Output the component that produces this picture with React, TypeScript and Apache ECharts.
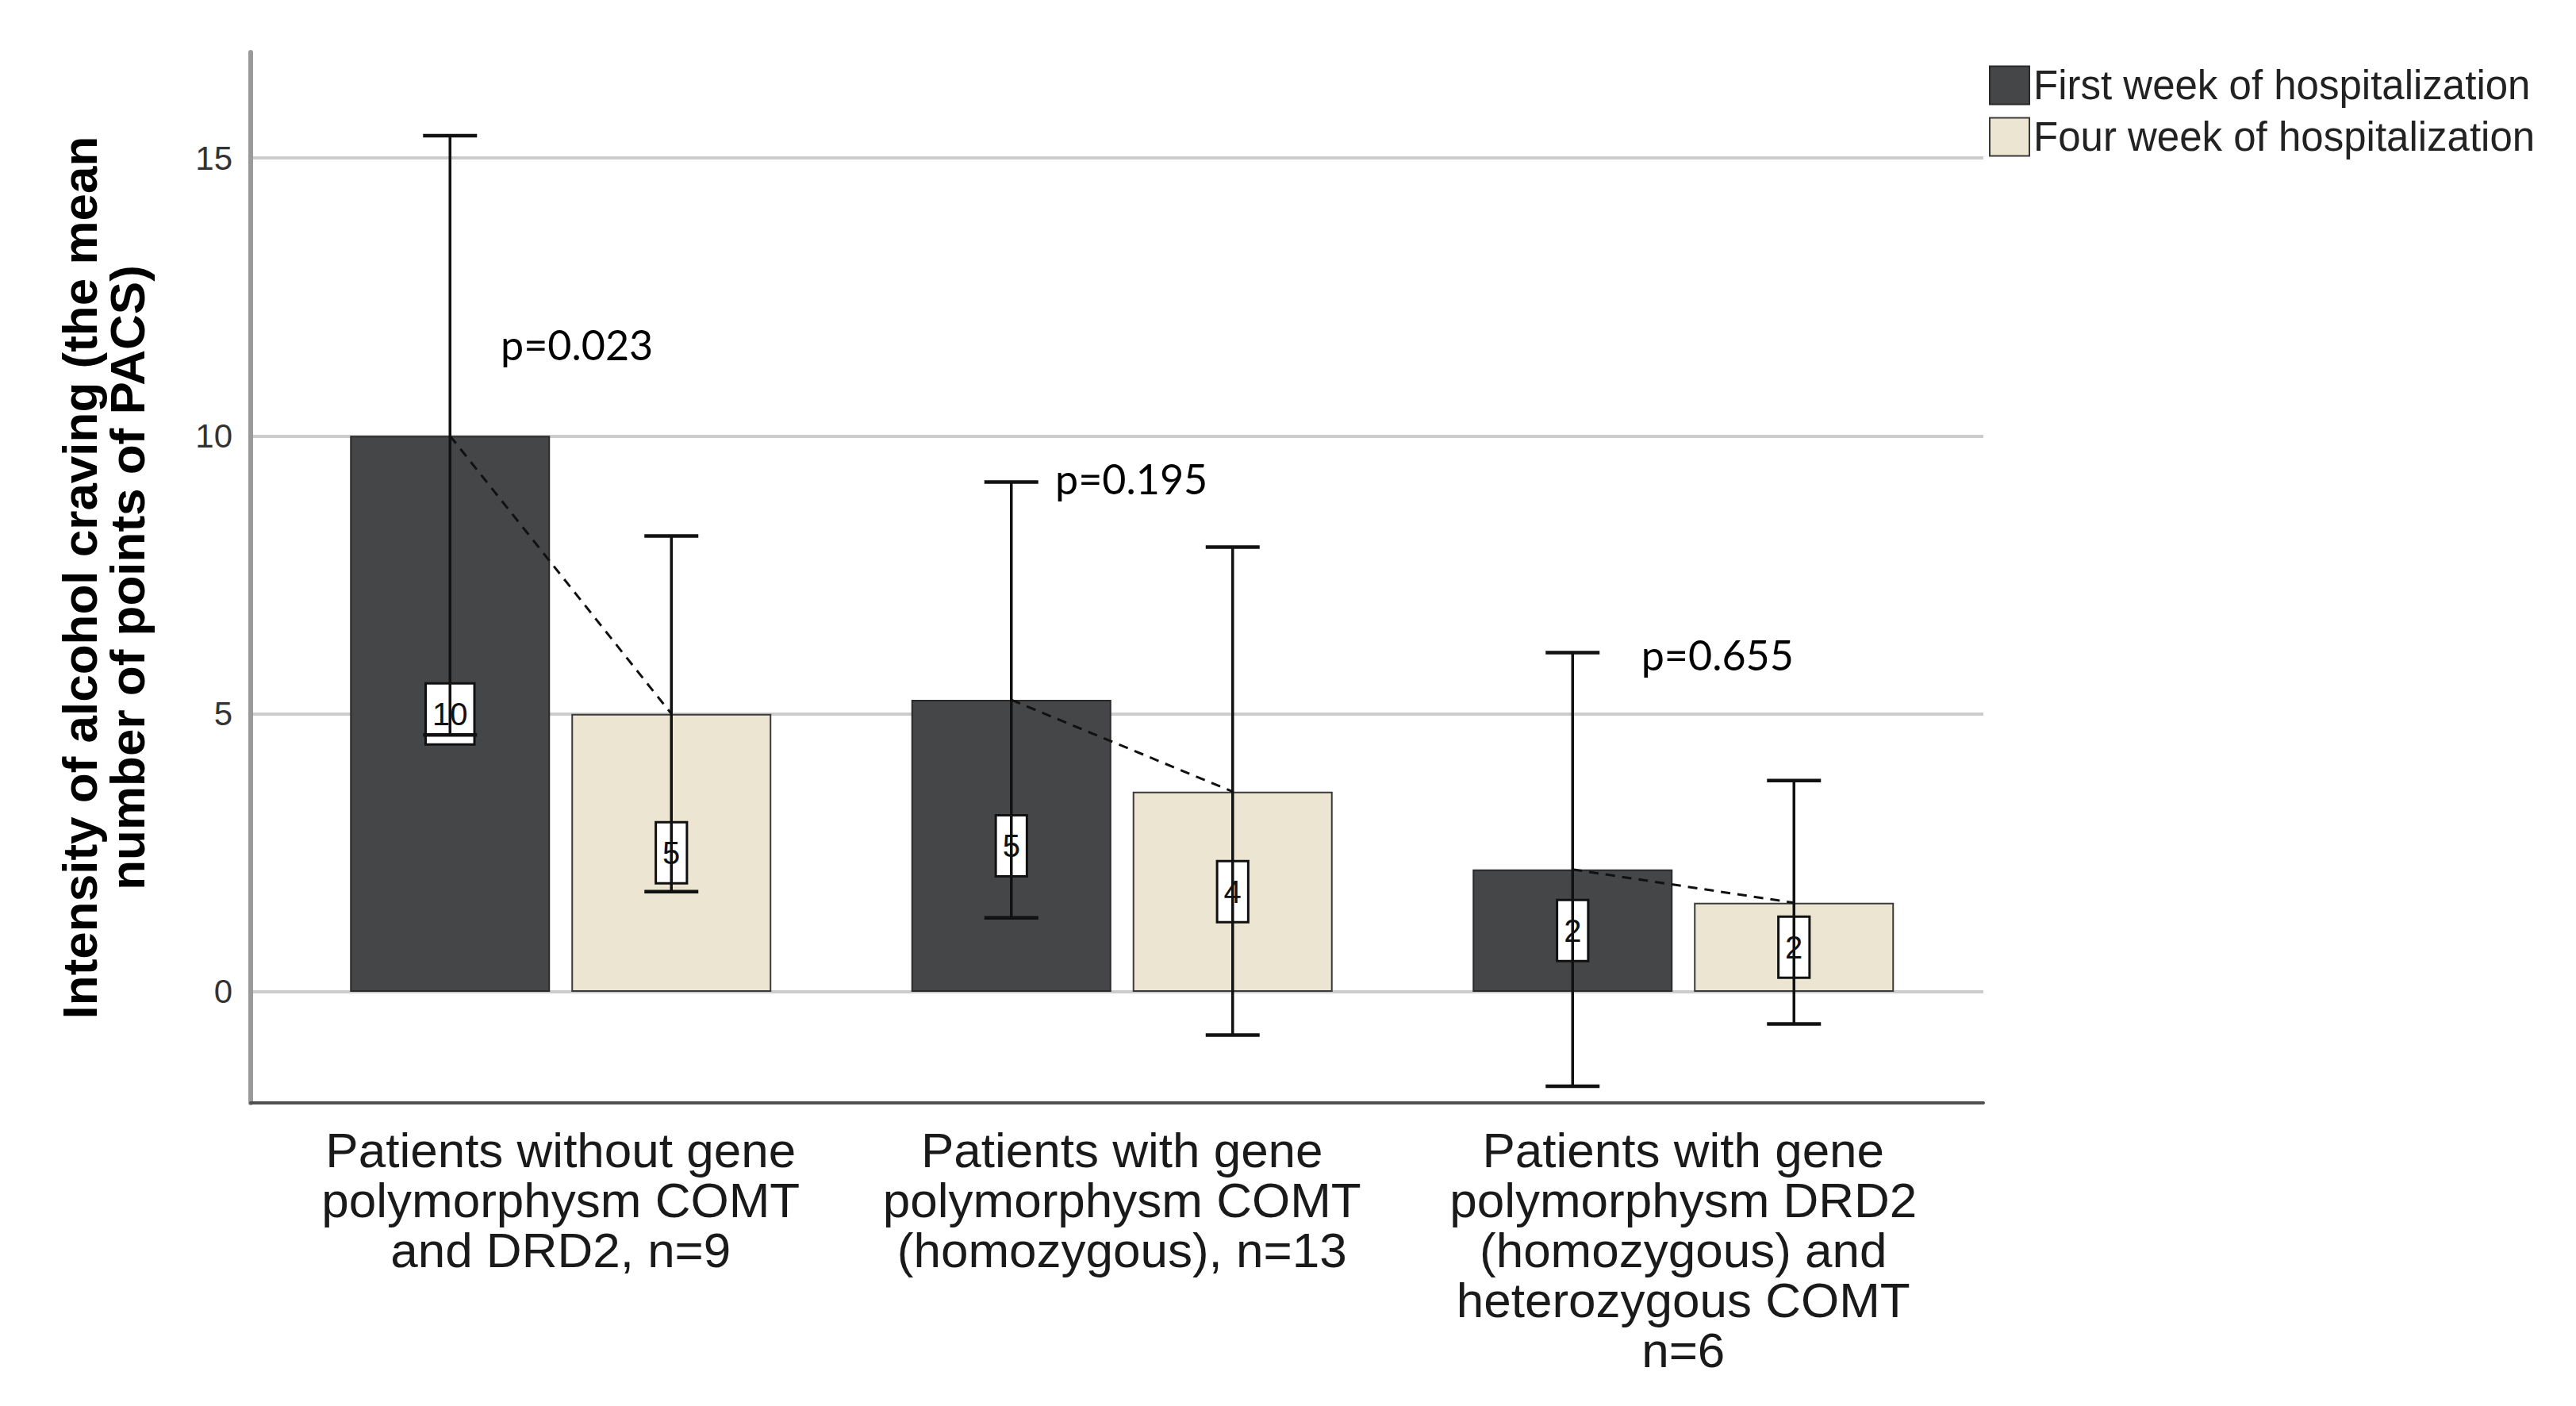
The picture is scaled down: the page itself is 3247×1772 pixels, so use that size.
import React, { useEffect, useRef } from "react";
import * as echarts from "echarts";

const categories = [
  "Patients without gene\npolymorphysm COMT\nand DRD2, n=9",
  "Patients with gene\npolymorphysm COMT\n(homozygous), n=13",
  "Patients with gene\npolymorphysm DRD2\n(homozygous) and\nheterozygous COMT\nn=6",
];
const seriesNames = ["First week of hospitalization", "Four week of hospitalization"];
const firstMean = [10.0, 5.25, 2.2];
const firstLow = [4.62, 1.33, -1.7];
const firstHigh = [15.4, 9.17, 6.1];
const fourMean = [5.0, 3.6, 1.6];
const fourLow = [1.8, -0.78, -0.58];
const fourHigh = [8.2, 8.0, 3.8];
const pValues = ["p=0.023", "p=0.195", "p=0.655"];
const pLabelY = [11.65, 9.24, 6.06];
const pLabelShift = [-0.107, -0.119, -0.075];
const yTicks = [0, 5, 10, 15];
const yTitle = "Intensity of alcohol craving (the mean\nnumber of points of PACS)";

const BAR_W = 252;
const GAP_PX = 27;
const HALF = (BAR_W + GAP_PX) / 2;
const CAP_W = 68;
const FONT = "Liberation Sans";

export default function App() {
  const ref = useRef<HTMLDivElement>(null);
  useEffect(() => {
    document.body.style.margin = "0";
    const chart = echarts.init(ref.current!, null, { renderer: "svg" });

    const errRender = (side: number) => (params: any, api: any) => {
      const cat = api.value(0);
      const lo = api.coord([cat, api.value(1)]);
      const hi = api.coord([cat, api.value(2)]);
      const x = lo[0] + side * HALF;
      const cw = CAP_W / 2;
      const st = { stroke: "#111", lineWidth: 3.5 };
      return {
        type: "group",
        children: [
          { type: "line", shape: { x1: x, y1: hi[1], x2: x, y2: lo[1] }, style: st },
          { type: "line", shape: { x1: x - cw, y1: hi[1], x2: x + cw, y2: hi[1] }, style: { stroke: "#111", lineWidth: 4.5 } },
          { type: "line", shape: { x1: x - cw, y1: lo[1], x2: x + cw, y2: lo[1] }, style: { stroke: "#111", lineWidth: 4.5 } },
        ],
      };
    };

    const dashRender = (params: any, api: any) => {
      const cat = api.value(0);
      const a = api.coord([cat, api.value(1)]);
      const b = api.coord([cat, api.value(2)]);
      return {
        type: "line",
        shape: { x1: a[0] - HALF, y1: a[1], x2: b[0] + HALF, y2: b[1] },
        style: { stroke: "#111", lineWidth: 3, lineDash: [12, 9] },
      };
    };

    const pRender = (params: any, api: any) => {
      const i = params.dataIndex;
      const p = api.coord([api.value(0), api.value(1)]);
      const bw = api.size([1, 0])[0];
      return {
        type: "text",
        x: p[0] + pLabelShift[i] * bw,
        y: p[1],
        style: {
          text: pValues[i],
          fill: "#000",
          fontSize: 52,
          fontFamily: "Lato",
          align: "left",
          verticalAlign: "middle",
        },
      };
    };

    const barLabel = {
      show: true,
      position: "inside",
      formatter: (p: any) => String(Math.round(p.value)),
      backgroundColor: "#ffffff",
      borderColor: "#111",
      borderWidth: 3,
      padding: [17, 7],
      fontSize: 40,
      lineHeight: 40,
      color: "#111",
      fontFamily: FONT,
    };

    chart.setOption({
      animation: false,
      backgroundColor: "#ffffff",
      textStyle: { fontFamily: FONT },
      legend: {
        data: seriesNames,
        orient: "vertical",
        left: 2502,
        top: 77,
        itemWidth: 50,
        itemHeight: 48,
        itemGap: 14,
        icon: "rect",
        textStyle: { fontSize: 51, color: "#222", fontFamily: FONT },
      },
      grid: [
        { left: 353, width: 2122.5, top: 66, height: 1324 },
        { left: 316, width: 2184, top: 66, height: 1324 },
      ],
      xAxis: [
        {
          type: "category",
          gridIndex: 0,
          data: categories,
          axisLine: { show: false, onZero: false },
          axisTick: { show: false },
          axisLabel: {
            interval: 0,
            margin: 28,
            fontSize: 62,
            lineHeight: 63,
            color: "#1a1a1a",
            fontFamily: FONT,
            align: "center",
          },
          splitLine: { show: false },
        },
        {
          type: "value",
          gridIndex: 1,
          min: 0,
          max: 1,
          axisLine: { show: true, onZero: false, lineStyle: { color: "#505050", width: 4 } },
          axisTick: { show: false },
          axisLabel: { show: false },
          splitLine: { show: false },
        },
      ],
      yAxis: [
        {
          type: "value",
          gridIndex: 0,
          min: -2,
          max: 16.9,
          show: false,
          splitLine: { show: false },
        },
        {
          type: "value",
          gridIndex: 1,
          min: -2,
          max: 16.9,
          name: yTitle,
          nameLocation: "middle",
          nameGap: 126,
          nameTextStyle: {
            fontSize: 62,
            lineHeight: 60,
            fontWeight: "bold",
            color: "#000",
            fontFamily: FONT,
          },
          axisLine: { show: true, onZero: false, lineStyle: { color: "#9a9a9a", width: 6 } },
          axisTick: { show: false, customValues: yTicks },
          axisLabel: {
            customValues: yTicks,
            margin: 23,
            fontSize: 42,
            color: "#333",
            fontFamily: FONT,
          },
          splitLine: { show: true, lineStyle: { color: "#cccccc", width: 4 } },
        },
      ],
      series: [
        {
          name: seriesNames[0],
          type: "bar",
          xAxisIndex: 0,
          yAxisIndex: 0,
          data: firstMean,
          barWidth: BAR_W,
          barGap: ((GAP_PX / BAR_W) * 100).toFixed(2) + "%",
          itemStyle: { color: "#454648", borderColor: "#2a2a2a", borderWidth: 2 },
          label: barLabel,
          z: 2,
        },
        {
          name: seriesNames[1],
          type: "bar",
          xAxisIndex: 0,
          yAxisIndex: 0,
          data: fourMean,
          barWidth: BAR_W,
          barGap: ((GAP_PX / BAR_W) * 100).toFixed(2) + "%",
          itemStyle: { color: "#ebe5d1", borderColor: "#3a3a3a", borderWidth: 2 },
          label: barLabel,
          z: 2,
        },
        {
          name: "err1",
          type: "custom",
          xAxisIndex: 0,
          yAxisIndex: 0,
          renderItem: errRender(-1),
          data: categories.map((_, i) => [i, firstLow[i], firstHigh[i]]),
          encode: { x: 0, y: [1, 2] },
          z: 5,
          silent: true,
        },
        {
          name: "err2",
          type: "custom",
          xAxisIndex: 0,
          yAxisIndex: 0,
          renderItem: errRender(1),
          data: categories.map((_, i) => [i, fourLow[i], fourHigh[i]]),
          encode: { x: 0, y: [1, 2] },
          z: 5,
          silent: true,
        },
        {
          name: "dash",
          type: "custom",
          xAxisIndex: 0,
          yAxisIndex: 0,
          renderItem: dashRender,
          data: categories.map((_, i) => [i, firstMean[i], fourMean[i]]),
          encode: { x: 0, y: [1, 2] },
          z: 6,
          silent: true,
        },
        {
          name: "pvals",
          type: "custom",
          xAxisIndex: 0,
          yAxisIndex: 0,
          renderItem: pRender,
          data: categories.map((_, i) => [i, pLabelY[i]]),
          encode: { x: 0, y: 1 },
          z: 7,
          silent: true,
        },
      ],
    });
    return () => chart.dispose();
  }, []);
  return (
    <div
      ref={ref}
      style={{ position: "absolute", left: 0, top: 0, width: 3247, height: 1772 }}
    />
  );
}
